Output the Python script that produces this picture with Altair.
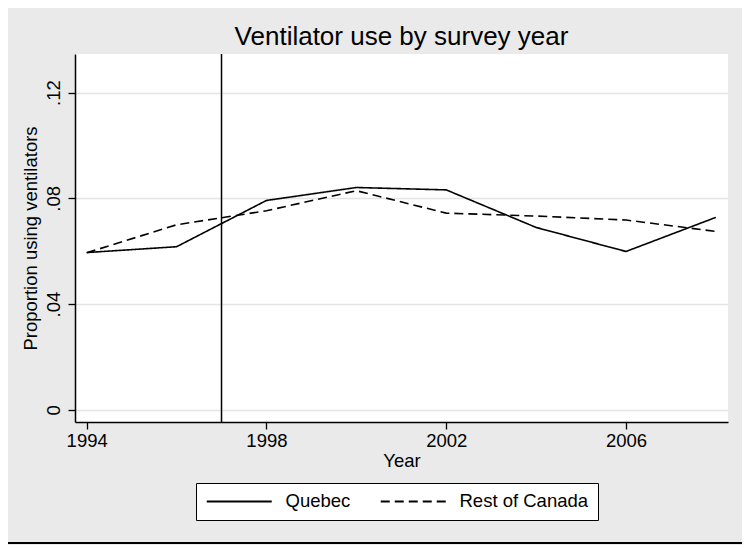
import altair as alt
import pandas as pd

years = [1994, 1996, 1998, 2000, 2002, 2004, 2006, 2008]
quebec = [0.0595, 0.0617, 0.0792, 0.0841, 0.0832, 0.0690, 0.0599, 0.0728]
rest_of_canada = [0.0594, 0.0700, 0.0753, 0.0829, 0.0744, 0.0733, 0.0718, 0.0675]
regions = ["Quebec", "Rest of Canada"]
policy_year = [1997]
y_ticks = [0, 0.04, 0.08, 0.12]
x_ticks = [1994, 1998, 2002, 2006]

rows = []
for y, q, r in zip(years, quebec, rest_of_canada):
    rows.append({"Year": y, "value": q, "Region": regions[0]})
    rows.append({"Year": y, "value": r, "Region": regions[1]})
df = pd.DataFrame(rows)
vdf = pd.DataFrame({"Year": policy_year})

FONT = "Liberation Sans"
FS = 18.5

xscale = alt.Scale(domain=[1993.74, 2008.27], nice=False, zero=False)
yscale = alt.Scale(domain=[-0.0046, 0.1346], nice=False, zero=False)

common_axis = dict(domainColor="black", domainWidth=1.5, tickColor="black",
                   tickWidth=1.3, tickSize=7, labelFontSize=FS, titleFontSize=FS,
                   labelFont=FONT, titleFont=FONT, titleFontWeight="normal",
                   labelColor="black", titleColor="black")

lines = alt.Chart(df).mark_line(color="black", strokeWidth=1.6).encode(
    x=alt.X("Year:Q", scale=xscale,
            axis=alt.Axis(values=x_ticks, format="d", title="Year", grid=False,
                          labelPadding=2, titlePadding=2, **common_axis)),
    y=alt.Y("value:Q", scale=yscale,
            axis=alt.Axis(values=y_ticks, title="Proportion using ventilators",
                          labelExpr="datum.value == 0 ? '0' : replace(format(datum.value, '.2f'), '0.', '.')",
                          labelAngle=270, labelAlign="center", labelBaseline="bottom",
                          grid=True, gridColor="#E4E4E4", gridWidth=1.6,
                          labelPadding=5, titlePadding=4, **common_axis)),
    strokeDash=alt.StrokeDash("Region:N",
                              scale=alt.Scale(domain=regions, range=[[1, 0], [9, 5]]),
                              legend=alt.Legend(title=None, orient="none", direction="horizontal",
                                                legendX=121, legendY=429,
                                                symbolType="M-5,0H5", symbolSize=169,
                                                symbolOffset=25,
                                                symbolStrokeWidth=2, symbolStrokeColor="black",
                                                labelFontSize=FS, labelFont=FONT, labelColor="black",
                                                labelOffset=37, columnPadding=25,
                                                fillColor="white", strokeColor="black",
                                                padding=9, offset=0)),
)

vline = alt.Chart(vdf).mark_rule(color="black", strokeWidth=1.5).encode(
    x=alt.X("Year:Q", scale=xscale)
)

bottom_rule = alt.Chart(vdf).mark_rule(color="black", strokeWidth=2, clip=False).encode(
    x=alt.value(-67), x2=alt.value(667), y=alt.value(489)
)

chart = alt.layer(lines, vline, bottom_rule).properties(
    width=653, height=368,
    title=alt.TitleParams("Ventilator use by survey year", fontSize=26, font=FONT,
                          fontWeight="normal", color="black", anchor="middle", offset=3),
    autosize=alt.AutoSizeParams(type="none"),
    padding={"left": 67, "top": 46, "right": 14, "bottom": 123},
    background="#EAEAEA",
).configure_view(fill="white", stroke=None)

chart.save("out.html", embed_options={"renderer": "svg", "actions": False})
